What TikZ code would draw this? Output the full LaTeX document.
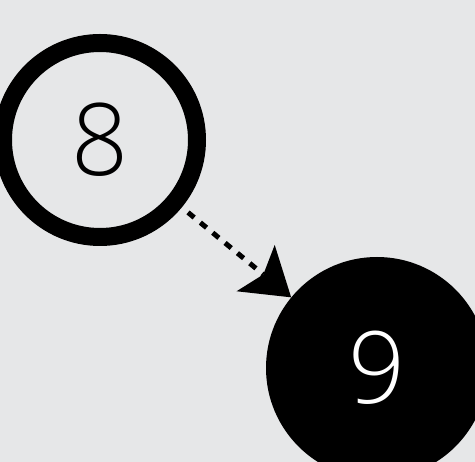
\documentclass[tikz,border=0pt]{standalone}
\usepackage{fontspec}
\setmainfont{Open Sans Light}
\usepackage{xcolor}
\usetikzlibrary{arrows.meta, positioning}
\definecolor{bggray}{RGB}{230,231,232}

\begin{document}
\begin{tikzpicture}[
    x=1pt, y=-1pt,
    ring/.style={circle, draw=black, line width=18pt, fill=bggray, inner sep=0pt,
                minimum size=194pt, font=\fontsize{100}{100}\selectfont},
    filled/.style={circle, fill=black, text=white, inner sep=0pt,
                minimum size=222pt, font=\fontsize{100}{100}\selectfont},
    arrow/.style={-{Stealth[length=46pt, width=60pt, inset=10pt, line width=0pt]},
                line width=5pt, dash pattern=on 8pt off 8pt, shorten <=8pt}
]

% Background
\useasboundingbox (0,0) rectangle (475,462);
\fill[bggray] (0,0) rectangle (475,462);
\clip (0,0) rectangle (475,462);

% Nodes
\node[ring] (n8) at (100,140) {8};
\node[filled] (n9) at (377,368) {9};

% Arrows
\draw[arrow] (n8) -- (n9);

\end{tikzpicture}
\end{document}
